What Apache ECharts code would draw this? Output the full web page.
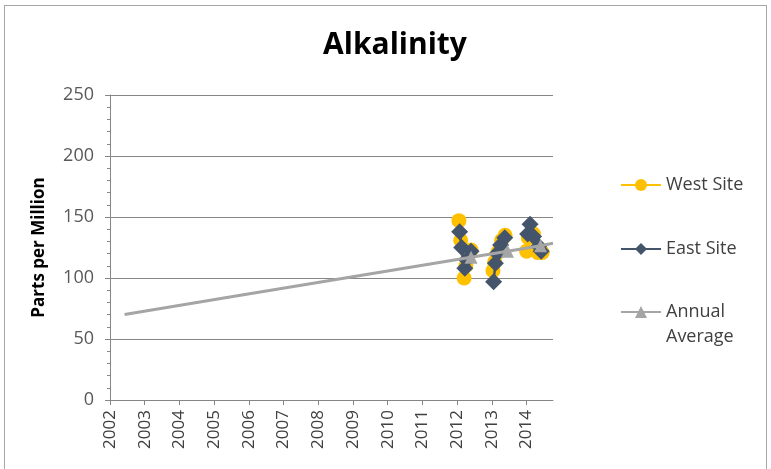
<!DOCTYPE html>
<html>
<head>
<meta charset="utf-8">
<title>Alkalinity</title>
<script src="https://cdn.jsdelivr.net/npm/echarts@6/dist/echarts.min.js"></script>
<style>
  html, body { margin: 0; padding: 0; background: #ffffff; }
  #chart { position: absolute; left: 0; top: 0; width: 771px; height: 469px; }
  #frame { position: absolute; left: 4px; top: 5px; width: 763px; height: 480px;
           border: 1px solid #a6a6a6; box-sizing: border-box; pointer-events: none; }
</style>
</head>
<body>
<div id="chart"></div>
<div id="frame"></div>
<script>
// Sample dates (decimal years) and alkalinity readings, parts per million
const westYears  = [2012.05, 2012.10, 2012.20, 2012.25, 2012.40,
                    2013.03, 2013.08, 2013.17, 2013.28, 2013.38,
                    2014.00, 2014.05, 2014.20, 2014.32, 2014.45];
const westValues = [147, 131, 100, 110, 123,
                    106, 113, 121, 131, 135,
                    122, 133, 136, 121, 121];

const eastYears  = [2012.07, 2012.13, 2012.22, 2012.27, 2012.40,
                    2013.05, 2013.10, 2013.15, 2013.25, 2013.37,
                    2014.03, 2014.10, 2014.20, 2014.35, 2014.42];
const eastValues = [138, 125, 108, 115, 122,
                    97, 112, 120, 127, 133,
                    136, 144, 134, 126, 122];

// Annual average line; markers only where a yearly mean was computed
const avgYears   = [2002.42, 2005.80, 2012.40, 2013.45, 2014.40, 2014.76];
const avgValues  = [70, 86, 117, 122, 126.5, 128.5];
const avgMarked  = [false, false, true, true, true, false];

const yearTicks  = [2002, 2003, 2004, 2005, 2006, 2007, 2008, 2009, 2010, 2011, 2012, 2013, 2014];

const FONT = '"Open Sans", "Noto Sans", sans-serif';

// Pair up x/y arrays, breaking the line between sampling years
function pairs(xs, ys) {
  const out = [];
  for (let i = 0; i < xs.length; i++) {
    if (i > 0 && Math.floor(xs[i]) !== Math.floor(xs[i - 1])) out.push([xs[i], '-']);
    out.push([xs[i], ys[i]]);
  }
  return out;
}

const avgData = avgYears.map((x, i) => avgMarked[i]
  ? { value: [x, avgValues[i]] }
  : { value: [x, avgValues[i]], symbol: 'none' });

const chart = echarts.init(document.getElementById('chart'), null, { renderer: 'canvas' });

const legendBase = {
  orient: 'vertical',
  left: 620,
  padding: 0,
  itemWidth: 40,
  itemHeight: 15,
  textStyle: { fontFamily: FONT, fontSize: 18, color: '#404040', lineHeight: 25 }
};

chart.setOption({
  animation: false,
  backgroundColor: '#ffffff',
  title: {
    text: 'Alkalinity',
    left: 390,
    textAlign: 'center',
    top: 25,
    textStyle: { fontFamily: FONT, fontSize: 30, fontWeight: 'bold', color: '#000000' }
  },
  legend: [
    Object.assign({}, legendBase, { top: 172.5, data: ['West Site'] }),
    Object.assign({}, legendBase, { top: 236.5, data: ['East Site'] }),
    // leading empty line keeps the marker level with the first word
    Object.assign({}, legendBase, {
      top: 274.5,
      data: ['Annual Average'],
      formatter: () => '\nAnnual\nAverage'
    })
  ],
  grid: { left: 110, right: 218, top: 95, bottom: 69, containLabel: false },
  xAxis: {
    type: 'value',
    min: 2002,
    max: 2014.76,
    interval: 1,
    splitLine: { show: false },
    axisLine: { lineStyle: { color: '#868686', width: 1 } },
    axisTick: { show: true, length: 5, lineStyle: { color: '#868686' }, customValues: yearTicks },
    axisLabel: {
      rotate: 90,
      margin: 10,
      fontFamily: FONT,
      fontSize: 17,
      color: '#404040',
      customValues: yearTicks,
      formatter: v => String(v)
    }
  },
  yAxis: {
    type: 'value',
    min: 0,
    max: 250,
    interval: 50,
    name: 'Parts per Million',
    nameLocation: 'middle',
    nameGap: 62,
    nameTextStyle: { fontFamily: FONT, fontSize: 17, fontWeight: 'bold', color: '#000000' },
    axisLine: { show: true, lineStyle: { color: '#868686', width: 1 } },
    axisTick: { show: true, length: 5, lineStyle: { color: '#868686' } },
    minorTick: { show: true, splitNumber: 5, length: 3, lineStyle: { color: '#868686' } },
    splitLine: { show: true, lineStyle: { color: '#868686', width: 1 } },
    axisLabel: { margin: 16, fontFamily: FONT, fontSize: 18, color: '#595959' }
  },
  series: [
    {
      name: 'West Site',
      type: 'line',
      data: pairs(westYears, westValues),
      symbol: 'circle',
      symbolSize: 15,
      showAllSymbol: true,
      connectNulls: false,
      itemStyle: { color: '#FFC000' },
      lineStyle: { color: '#FFC000', width: 2.5 },
      z: 2
    },
    {
      name: 'East Site',
      type: 'line',
      data: pairs(eastYears, eastValues),
      symbol: 'diamond',
      symbolSize: 17,
      showAllSymbol: true,
      connectNulls: false,
      itemStyle: { color: '#44546A' },
      lineStyle: { color: '#44546A', width: 2.5 },
      z: 3
    },
    {
      name: 'Annual Average',
      type: 'line',
      data: avgData,
      symbol: 'triangle',
      symbolSize: 13,
      showAllSymbol: true,
      itemStyle: { color: '#A5A5A5' },
      lineStyle: { color: '#A5A5A5', width: 3 },
      z: 4
    }
  ]
});
</script>
</body>
</html>
